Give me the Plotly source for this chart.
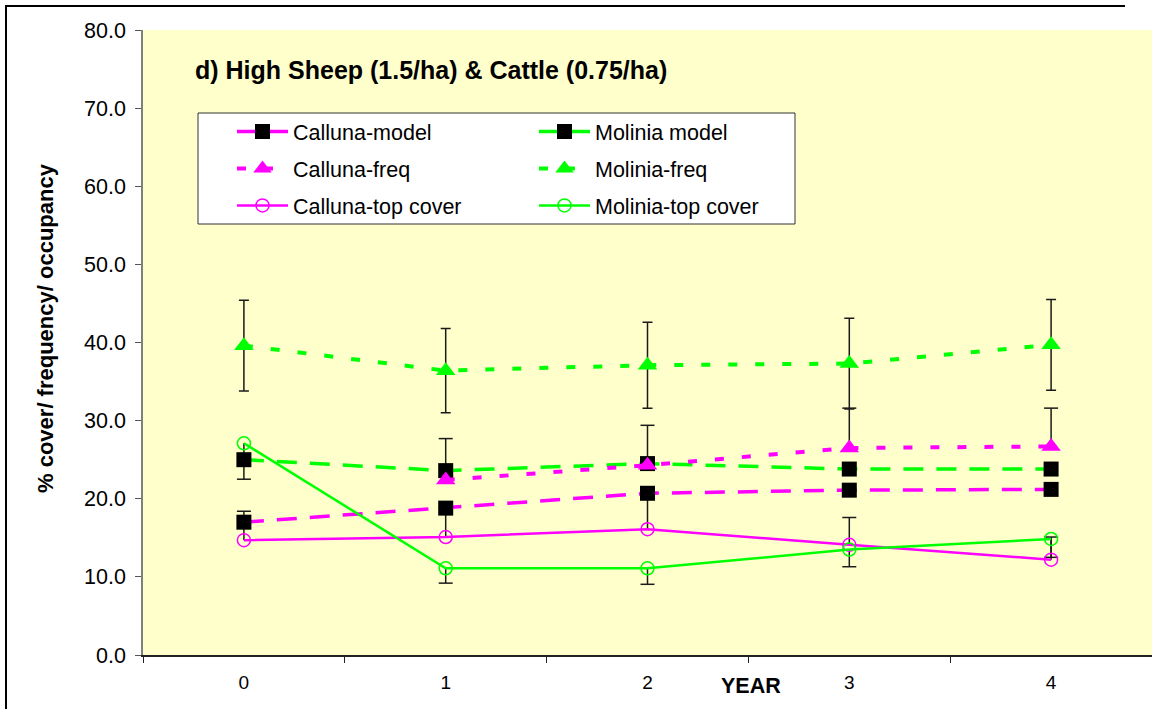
import plotly.graph_objects as go

# ---- data -------------------------------------------------------------
years = ["0", "1", "2", "3", "4"]

calluna_model = [17.0, 18.8, 20.7, 21.1, 21.2]
molinia_model = [25.0, 23.6, 24.5, 23.8, 23.8]
calluna_freq = [None, 22.4, 24.3, 26.5, 26.7]
molinia_freq = [39.6, 36.4, 37.1, 37.3, 39.7]
calluna_top = [14.7, 15.1, 16.1, 14.1, 12.2]
molinia_top = [27.1, 11.1, 11.1, 13.5, 14.85]

# error bars (molinia-freq symmetric, others one-sided)
molinia_freq_err = [5.8, 5.4, 5.5, 5.8, 5.8]
calluna_freq_err_up = [None, 5.3, 5.1, 5.1, 4.9]
calluna_top_err_up = [3.7, 3.7, 4.6, 3.5, 2.9]
molinia_top_err_down = [4.6, 1.9, 2.05, 2.2, 2.35]

MAGENTA = "#FF00FF"
GREEN = "#00FF00"
BAR = "#1a1a1a"
FONT = "Liberation Sans, Arial, sans-serif"

fig = go.Figure()


def one_sided_bar(values, errs, sign):
    """Vertical error bar drawn only on one side, with a cap at the far end."""
    xs, ys, cx, cy = [], [], [], []
    for yr, v, e in zip(years, values, errs):
        if v is None or e is None:
            continue
        end = v + sign * e
        xs += [yr, yr, None]
        ys += [v, end, None]
        cx.append(yr)
        cy.append(end)
    fig.add_trace(go.Scatter(x=xs, y=ys, mode="lines", showlegend=False,
                             hoverinfo="skip",
                             line=dict(color=BAR, width=1.5)))
    fig.add_trace(go.Scatter(x=cx, y=cy, mode="markers", showlegend=False,
                             hoverinfo="skip",
                             marker=dict(symbol="line-ew", size=10,
                                         line=dict(color=BAR, width=1.5))))


one_sided_bar(calluna_freq, calluna_freq_err_up, +1)
one_sided_bar(calluna_top, calluna_top_err_up, +1)
one_sided_bar(molinia_top, molinia_top_err_down, -1)

MODEL_DASH = "20px,13px"
FREQ_DASH = "9px,18px"

# Series in plotting order
fig.add_trace(go.Scatter(
    x=years, y=calluna_model, name="Calluna-model", legend="legend",
    legendgroup="cm", mode="lines+markers",
    line=dict(color=MAGENTA, width=3.5, dash=MODEL_DASH),
    marker=dict(symbol="square", size=15, color="black")))
fig.add_trace(go.Scatter(
    x=years, y=molinia_model, name="Molinia model", legend="legend2",
    legendgroup="mm", mode="lines+markers",
    line=dict(color=GREEN, width=3.5, dash=MODEL_DASH),
    marker=dict(symbol="square", size=15, color="black")))
fig.add_trace(go.Scatter(
    x=years, y=calluna_freq, name="Calluna-freq", legend="legend",
    legendgroup="cf", mode="lines+markers",
    line=dict(color=MAGENTA, width=4, dash=FREQ_DASH),
    marker=dict(symbol="triangle-up", size=17, color=MAGENTA)))
fig.add_trace(go.Scatter(
    x=years, y=molinia_freq, name="Molinia-freq", legend="legend2",
    legendgroup="mf", mode="lines+markers",
    line=dict(color=GREEN, width=4, dash=FREQ_DASH),
    marker=dict(symbol="triangle-up", size=17, color=GREEN),
    error_y=dict(type="data", array=molinia_freq_err, visible=True,
                 color=BAR, thickness=1.5, width=5)))
fig.add_trace(go.Scatter(
    x=years, y=calluna_top, name="Calluna-top cover", legend="legend",
    legendgroup="ct", mode="lines+markers",
    line=dict(color=MAGENTA, width=2.5),
    marker=dict(symbol="circle-open", size=13, color=MAGENTA,
                line=dict(width=1.5))))
fig.add_trace(go.Scatter(
    x=years, y=molinia_top, name="Molinia-top cover", legend="legend2",
    legendgroup="mt", mode="lines+markers",
    line=dict(color=GREEN, width=2.5),
    marker=dict(symbol="circle-open", size=13, color=GREEN,
                line=dict(width=1.5))))

# page is 1153x709; the paper area starts at (5, 5) and the axes sit
# inside it via their domains (plot area: x 143..1152, y 30..655)
W, H = 1153, 709
ML, MT = 5, 5
PL, PR, PT, PB = 143, 1152, 30, 655


def px(xp):
    return (xp - ML) / (W - ML)


def py(yp):
    return (H - yp) / (H - MT)


legend_common = dict(
    font=dict(family=FONT, size=21.5, color="black"),
    bgcolor="rgba(0,0,0,0)", borderwidth=0, itemwidth=51,
    tracegroupgap=6, xanchor="left", yanchor="top",
    itemclick=False, itemdoubleclick=False,
)


def frame_bar(x_left, y_top, w, h):
    """Solid black strip used for the chart's outer frame edges."""
    return dict(text=" ", xref="paper", yref="paper",
                x=px(x_left), y=py(y_top), xanchor="left", yanchor="top",
                width=w, height=h, bgcolor="black", borderwidth=0,
                borderpad=0, showarrow=False,
                font=dict(size=1, color="black"))


fig.update_layout(
    width=W, height=H,
    margin=dict(l=ML, r=0, t=MT, b=0, autoexpand=False),
    paper_bgcolor="white",
    plot_bgcolor="#FFFFCC",
    font=dict(family=FONT, color="black"),
    showlegend=True,
    legend=dict(x=px(232), y=py(111), **legend_common),
    legend2=dict(x=px(534), y=py(111), **legend_common),
    xaxis=dict(
        domain=[px(PL), px(PR)],
        type="category", categoryorder="array", categoryarray=years,
        range=[-0.5, 4.5], tickson="boundaries",
        ticks="outside", ticklen=6, tickcolor="#222", tickwidth=1,
        showline=True, linecolor="#222", linewidth=1.5,
        showgrid=False, zeroline=False,
        tickfont=dict(family=FONT, size=19, color="black"),
        ticklabelstandoff=9,
    ),
    yaxis=dict(
        domain=[py(PB), py(PT)],
        range=[0, 80], dtick=10, tickformat=".1f",
        ticks="outside", ticklen=6, tickcolor="#555", tickwidth=1,
        showline=True, linecolor="#808080", linewidth=1.5,
        showgrid=False, zeroline=False,
        tickfont=dict(family=FONT, size=21.5, color="black"),
        ticklabelstandoff=5,
    ),
    shapes=[
        # legend frame
        dict(type="rect", xref="paper", yref="paper", layer="above",
             x0=px(198), x1=px(795), y0=py(224), y1=py(113),
             fillcolor="white", line=dict(color="#333", width=1)),
    ],
    annotations=[
        # outer frame: top and left edges
        frame_bar(5, 5, 1120, 2),
        frame_bar(5, 5, 2, H - 5),
        dict(text="d) High Sheep (1.5/ha) & Cattle (0.75/ha)",
             xref="paper", yref="paper", x=px(193), y=py(70),
             xanchor="left", yanchor="middle", showarrow=False,
             font=dict(family=FONT, size=25, weight="bold", color="black")),
        dict(text="% cover/ frequency/ occupancy",
             xref="paper", yref="paper", x=px(45), y=py(328),
             xanchor="center", yanchor="middle", textangle=-90,
             showarrow=False,
             font=dict(family=FONT, size=22, weight="bold", color="black")),
        dict(text="YEAR", xref="paper", yref="paper", x=px(751), y=py(686),
             xanchor="center", yanchor="middle", showarrow=False,
             font=dict(family=FONT, size=21.5, weight="bold", color="black")),
    ],
)

fig.write_html("out.html")
